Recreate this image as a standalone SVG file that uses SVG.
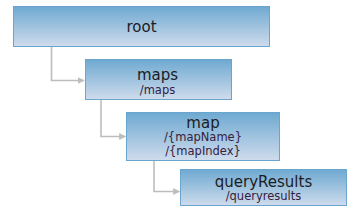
<svg xmlns="http://www.w3.org/2000/svg" width="363" height="212" viewBox="0 0 363 212">
<style>
.box{fill:url(#g);stroke:#6aa5cf;stroke-width:1}
.t{font-family:"DejaVu Sans",Verdana,sans-serif;font-size:15px;fill:#1c1c24;text-anchor:middle}
.s{font-family:"DejaVu Sans",Verdana,sans-serif;font-size:11.5px;fill:#35203f;text-anchor:middle}
.c{fill:none;stroke:#bdbdbd;stroke-width:1.6;marker-end:url(#a)}
</style>
<defs>
<linearGradient id="g" x1="0" y1="0" x2="0" y2="1">
<stop offset="0" stop-color="#6ea9d1"/>
<stop offset="1" stop-color="#cfdcec"/>
</linearGradient>
<marker id="a" viewBox="0 0 10 10" refX="9" refY="5" markerWidth="7" markerHeight="7" markerUnits="userSpaceOnUse" orient="auto">
<path d="M0,0 L10,5 L0,10 Z" fill="#bdbdbd"/>
</marker>
</defs>
<g id="connectors">
<path class="c" d="M51.5,47 V80.5 H84"/>
<path class="c" d="M101,100 V136.5 H125.5"/>
<path class="c" d="M154,161 V191.5 H179.5"/>
</g>
<g id="root">
<rect class="box" x="13.5" y="6.5" width="256" height="40"/>
<text class="t" x="141.5" y="32">root</text>
</g>
<g id="maps">
<rect class="box" x="85.5" y="59.5" width="146" height="40"/>
<text class="t" x="157.5" y="79.5">maps</text>
<text class="s" x="157.5" y="94">/maps</text>
</g>
<g id="map">
<rect class="box" x="126.5" y="112.5" width="153" height="48"/>
<text class="t" x="203" y="127.5">map</text>
<text class="s" x="203" y="141">/{mapName}</text>
<text class="s" x="203" y="154.5">/{mapIndex}</text>
</g>
<g id="queryResults">
<rect class="box" x="180.5" y="169.5" width="166" height="36"/>
<text class="t" x="263.5" y="186.5">queryResults</text>
<text class="s" x="263.5" y="200">/queryresults</text>
</g>
</svg>
